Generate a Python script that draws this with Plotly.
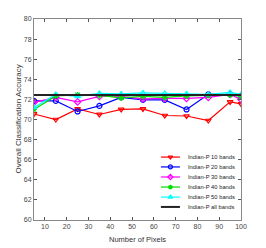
import plotly.graph_objects as go

pixels = [5, 15, 25, 35, 45, 55, 65, 75, 85, 95, 100]
bands10 = [70.55, 70.0, 71.05, 70.5, 71.0, 71.05, 70.4, 70.35, 69.9, 71.75, 71.55]
bands20 = [71.85, 71.85, 70.8, 71.35, 72.2, 71.95, 71.95, 71.0, 72.5, 72.5, 72.35]
bands30 = [71.7, 72.2, 71.75, 72.3, 72.3, 72.05, 72.1, 72.1, 72.2, 72.5, 72.0]
bands40 = [71.0, 72.35, 72.45, 72.4, 72.15, 72.3, 72.2, 72.35, 72.4, 72.45, 72.3]
bands50 = [71.2, 72.5, 72.3, 72.6, 72.55, 72.65, 72.6, 72.55, 72.5, 72.7, 72.5]
all_bands = 72.45

names = ["Indian-P 10 bands", "Indian-P 20 bands", "Indian-P 30 bands",
         "Indian-P 40 bands", "Indian-P 50 bands", "Indian-P all bands"]
colors = ["#ff0000", "#0000ff", "#ff00ff", "#00dd00", "#00ffff", "#222222"]
symbols = ["triangle-down-open", "circle-open", "diamond-open",
           "asterisk-open", "triangle-up-open", None]
series = [bands10, bands20, bands30, bands40, bands50]

fig = go.Figure()
for ys, nm, c, s in zip(series, names, colors, symbols):
    fig.add_trace(go.Scatter(x=pixels, y=ys, name=nm, mode="lines+markers",
                             line=dict(color=c, width=1.2),
                             marker=dict(symbol=s, size=5, color=c, line=dict(color=c, width=1.2)),
                             showlegend=False))
fig.add_trace(go.Scatter(x=[pixels[0], pixels[-1]], y=[all_bands, all_bands], name=names[5],
                         mode="lines", line=dict(color=colors[5], width=2), showlegend=False))

# custom compact legend on an overlay axis
row_y = [0.313, 0.264, 0.214, 0.164, 0.114, 0.065]
for i, (nm, c, s) in enumerate(zip(names, colors, symbols)):
    y = row_y[i]
    fig.add_trace(go.Scatter(x=[0.613, 0.705], y=[y, y], xaxis="x2", yaxis="y2", mode="lines",
                             line=dict(color=c, width=2 if s is None else 1.2),
                             showlegend=False, hoverinfo="skip"))
    if s is not None:
        fig.add_trace(go.Scatter(x=[0.659], y=[y], xaxis="x2", yaxis="y2", mode="markers",
                                 marker=dict(symbol=s, size=4, color=c, line=dict(color=c, width=1.2)),
                                 showlegend=False, hoverinfo="skip"))
    fig.add_annotation(x=0.735, y=y, xref="x2", yref="y2", text=nm, showarrow=False,
                       xanchor="left", yanchor="middle",
                       font=dict(family="Liberation Sans", size=5.8, color="#222"))

fig.add_annotation(x=-0.077, y=0.5, xref="paper", yref="paper", text="Overall Classification Accuracy",
                   textangle=-90, showarrow=False, xanchor="center", yanchor="middle",
                   font=dict(family="Liberation Sans", size=8, color="#333"))
fig.add_annotation(x=0.5, y=-0.0995, xref="paper", yref="paper", text="Number of Pixels",
                   showarrow=False, xanchor="center", yanchor="middle",
                   font=dict(family="Liberation Sans", size=7.5, color="#333"))

axis_common = dict(showgrid=False, zeroline=False, showline=True, linecolor="#888",
                   linewidth=1, mirror="ticks", ticks="inside", ticklen=3, tickcolor="#555",
                   tickfont=dict(family="Liberation Sans", size=7, color="#444"))
fig.update_layout(
    width=266, height=248,
    margin=dict(l=34, r=25, t=19, b=28),
    paper_bgcolor="white", plot_bgcolor="white",
    xaxis=dict(range=[5, 100], tickvals=[10, 20, 30, 40, 50, 60, 70, 80, 90, 100],
               automargin=False, **axis_common),
    yaxis=dict(range=[60, 80], tickvals=list(range(60, 81, 2)),
               automargin=False, **axis_common),
    xaxis2=dict(domain=[0, 1], range=[0, 1], overlaying="x", visible=False),
    yaxis2=dict(domain=[0, 1], range=[0, 1], overlaying="y", visible=False),
)
fig.write_html("out.html", config={"displayModeBar": False},
               post_script="document.body.style.margin='0';")
